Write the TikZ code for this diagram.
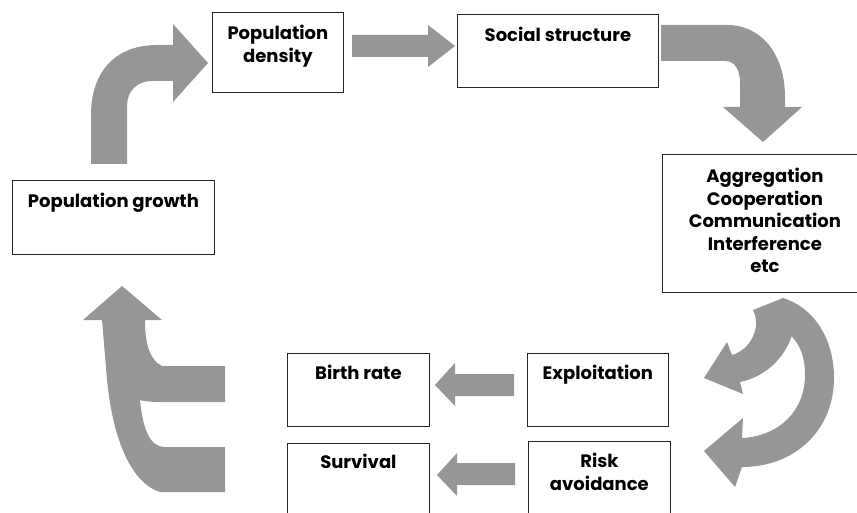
\documentclass[tikz,border=0pt]{standalone}
\usepackage{fontspec}
\setsansfont{Poppins}
\usetikzlibrary{positioning}

\definecolor{arrowgray}{RGB}{150,150,150}
\tikzset{
  box/.style={draw=black!85, line width=0.8pt, fill=white, anchor=north west, inner sep=0pt},
  boxtext/.style={font=\sffamily\bfseries\fontsize{18}{22.5}\selectfont, align=center, anchor=north, inner sep=0pt},
  blockarrow/.style={fill=arrowgray, draw=none},
}

\begin{document}
\begin{tikzpicture}[x=1pt, y=-1pt]
  \useasboundingbox (0,0) rectangle (857,513);
  \clip (0,0) rectangle (857,513);
  % boxes
  \node[box, minimum width=131pt, minimum height=80pt] (dens) at (212,12) {};
  \node[box, minimum width=201pt, minimum height=73pt] (soc) at (457,14) {};
  \node[box, minimum width=202pt, minimum height=74pt] (growth) at (12,180) {};
  \node[box, minimum width=205pt, minimum height=138pt] (agg) at (662,154) {};
  \node[box, minimum width=142pt, minimum height=73pt] (birth) at (287,353) {};
  \node[box, minimum width=141pt, minimum height=73pt] (expl) at (527,353) {};
  \node[box, minimum width=142pt, minimum height=90pt] (surv) at (287,443) {};
  \node[box, minimum width=142pt, minimum height=90pt] (risk) at (528,441) {};
  % texts
  \node[boxtext] (denstext) at ([yshift=-13pt]dens.north) {Population\\density};
  \node[boxtext] (soctext) at ([yshift=-13pt]soc.north) {Social structure};
  \node[boxtext] (growthtext) at ([yshift=-13pt]growth.north) {Population growth};
  \node[boxtext] (aggtext) at ([yshift=-14pt]agg.north) {Aggregation\\Cooperation\\Communication\\Interference\\etc};
  \node[boxtext] (birthtext) at ([yshift=-12pt]birth.north) {Birth rate};
  \node[boxtext] (expltext) at ([yshift=-12pt]expl.north) {Exploitation};
  \node[boxtext] (survtext) at ([yshift=-11pt]surv.north) {Survival};
  \node[boxtext] (risktext) at ([yshift=-12pt]risk.north) {Risk\\avoidance};
  % growth -> density
  \fill[blockarrow] (91,164) -- (91,115) .. controls (91,72) and (115,45) .. (157,45)
    -- (173,45) -- (173,24) -- (208,63) -- (173,102) -- (173,81) -- (152,81)
    .. controls (137,81) and (127,91) .. (127,106) -- (127,164) -- cycle;
  % density -> social structure
  \fill[blockarrow] (352,35) -- (428,35) -- (428,25) -- (455,46) -- (428,67) -- (428,57) -- (352,57) -- cycle;
  % social structure -> aggregation
  \fill[blockarrow] (661,25) -- (727,25) .. controls (762,25) and (785,55) .. (785,97)
    -- (785,107) -- (802,107) -- (763,142) -- (723,107) -- (740,107) -- (740,83)
    .. controls (740,70) and (735,61) .. (725,61) -- (661,61) -- cycle;
  % aggregation -> exploitation
  \fill[blockarrow] (753,310) -- (783,298) -- (792,335) .. controls (785,358) and (765,377) .. (740,382)
    -- (743,394) -- (704,378) -- (727,342) -- (732,355)
    .. controls (750,350) and (762,328) .. (753,310) -- cycle;
  % aggregation -> risk avoidance
  \fill[blockarrow] (775,305) -- (783,298) .. controls (815,308) and (834,340) .. (834,378)
    .. controls (834,430) and (795,467) .. (742,467) -- (735,487) -- (704,451) -- (743,418) -- (742,438)
    .. controls (780,436) and (805,410) .. (805,375) .. controls (805,355) and (799,343) .. (790,335) -- cycle;
  % exploitation -> birth rate, risk avoidance -> survival
  \fill[blockarrow] (514,374) -- (455,374) -- (455,363) -- (435,385) -- (455,406) -- (455,396) -- (514,396) -- cycle;
  \fill[blockarrow] (515,463) -- (457,463) -- (457,453) -- (437,475) -- (457,496) -- (457,485) -- (515,485) -- cycle;
  % birth rate / survival -> growth
  \fill[blockarrow] (225,492) -- (160,492) .. controls (128,482) and (110,430) .. (106,367)
    -- (140,380) -- (140,400) .. controls (143,430) and (150,447) .. (165,447) -- (225,447) -- cycle;
  \fill[blockarrow] (225,366) -- (162,366) .. controls (150,360) and (145,345) .. (145,320)
    -- (162,320) -- (122,286) -- (83,320) -- (102,320) -- (106,367) -- (125,395)
    .. controls (135,400) and (145,402) .. (160,402) -- (225,402) -- cycle;
\end{tikzpicture}
\end{document}
